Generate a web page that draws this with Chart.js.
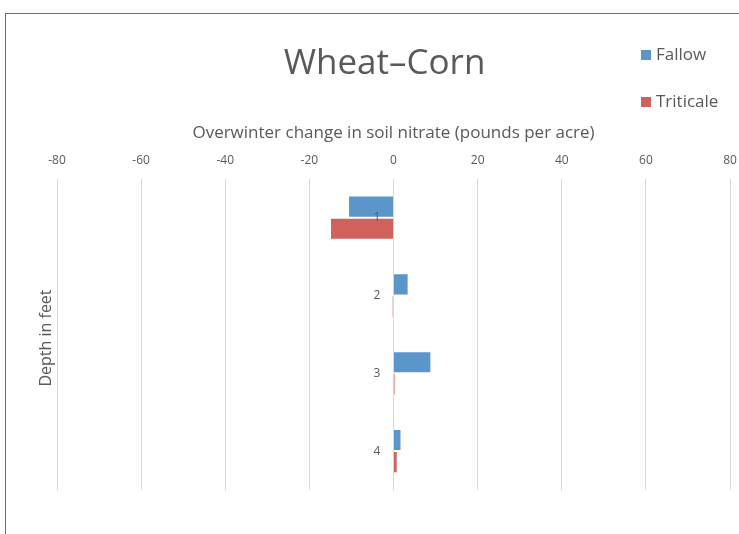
<!DOCTYPE html>
<html>
<head>
<meta charset="utf-8">
<script src="https://cdn.jsdelivr.net/npm/chart.js@4"></script>
<style>
  html, body { margin: 0; padding: 0; background: #fff; overflow: hidden; }
  #wrap { position: relative; width: 739px; height: 534px; }
</style>
</head>
<body>
<div id="wrap"><canvas id="depthChart" width="739" height="534"></canvas></div>
<script>
// depth categories (feet) and overwinter change in soil nitrate (lb/acre)
const depths = ['1', '2', '3', '4'];
const fallow = [-10.8, 3.6, 9.0, 1.9];
const triticale = [-15.1, -0.3, 0.4, 1.0];
const xTicks = [-80, -60, -40, -20, 0, 20, 40, 60, 80];

const FONT = '"Open Sans", Lato, sans-serif';
const GREY = '#595959';

// frame, chart title, y axis title and legend drawn on top of the chart
const extras = {
    id: 'extras',
    afterDraw(chart) {
        const ctx = chart.ctx;
        ctx.save();
        ctx.strokeStyle = '#6e6e6e';
        ctx.lineWidth = 1;
        ctx.strokeRect(5.5, 13.5, 900, 700);

        ctx.fillStyle = GREY;
        ctx.textAlign = 'center';
        ctx.textBaseline = 'middle';
        ctx.font = '35px ' + FONT;
        ctx.fillText('Wheat\u2013Corn', 384.5, 64);

        ctx.font = '16px ' + FONT;
        ctx.translate(46, 338);
        ctx.rotate(-Math.PI / 2);
        ctx.fillText('Depth in feet', 0, 0);
        ctx.restore();

        ctx.save();
        ctx.font = '17px ' + FONT;
        ctx.textBaseline = 'middle';
        chart.data.datasets.forEach((ds, i) => {
            const y = 55 + i * 47;
            ctx.fillStyle = ds.backgroundColor;
            ctx.fillRect(641, y - 5, 10, 10);
            ctx.fillStyle = GREY;
            ctx.fillText(ds.label, 656, y);
        });
        ctx.restore();
    }
};

new Chart(document.getElementById('depthChart'), {
    type: 'bar',
    data: {
        labels: depths,
        datasets: [
            {
                label: 'Fallow',
                data: fallow,
                backgroundColor: '#5b96cb',
                borderColor: 'rgba(255,255,255,0.5)',
                borderWidth: 1,
                categoryPercentage: 0.57,
                barPercentage: 1
            },
            {
                label: 'Triticale',
                data: triticale,
                backgroundColor: '#cf625b',
                borderColor: 'rgba(255,255,255,0.5)',
                borderWidth: 1,
                categoryPercentage: 0.57,
                barPercentage: 1
            }
        ]
    },
    options: {
        indexAxis: 'y',
        responsive: false,
        animation: false,
        layout: { padding: { left: 57, right: 9, bottom: 44, top: 123 } },
        plugins: {
            legend: { display: false },
            tooltip: { enabled: false },
            title: { display: false }
        },
        scales: {
            x: {
                position: 'top',
                min: -80,
                max: 80,
                afterBuildTicks: axis => { axis.ticks = xTicks.map(v => ({ value: v })); },
                afterFit: axis => { axis.paddingLeft = 0; axis.paddingRight = 0; },
                grid: { color: '#d9d9d9', drawTicks: false },
                border: { display: false },
                ticks: { color: GREY, font: { family: FONT, size: 12 }, padding: 11, maxRotation: 0 },
                title: {
                    display: true,
                    text: 'Overwinter change in soil nitrate (pounds per acre)',
                    color: GREY,
                    font: { family: FONT, size: 17 },
                    padding: { top: 0, bottom: -1 }
                }
            },
            y: {
                position: { x: -3.1 },
                grid: { display: false, drawTicks: false },
                border: { display: false },
                ticks: { z: 1, color: GREY, font: { family: FONT, size: 12 } }
            }
        }
    },
    plugins: [extras]
});
</script>
</body>
</html>
